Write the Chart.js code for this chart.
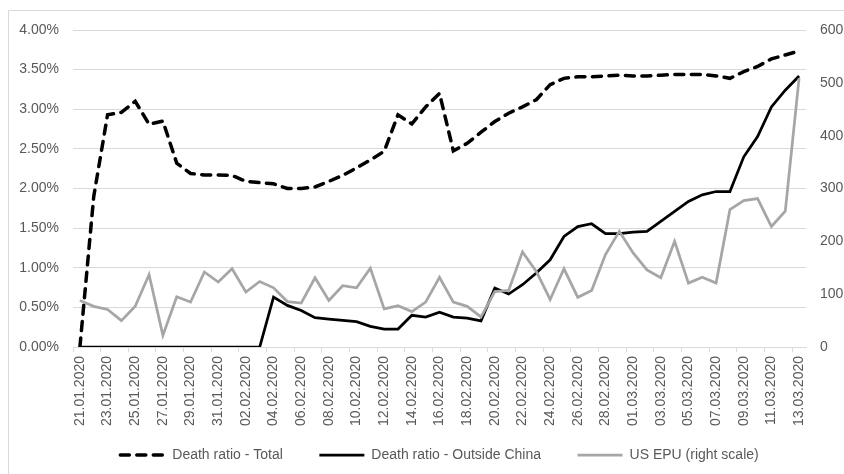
<!DOCTYPE html>
<html>
<head>
<meta charset="utf-8">
<script src="https://cdn.jsdelivr.net/npm/chart.js@4"></script>
<style>
  body { margin: 0; background: #fff; }
  #wrap { width: 844px; height: 474px; position: relative; }
</style>
</head>
<body>
<div id="wrap"><canvas id="chart"></canvas></div>
<script>
const dates = [
  "21.01.2020", "22.01.2020", "23.01.2020", "24.01.2020", "25.01.2020", "26.01.2020",
  "27.01.2020", "28.01.2020", "29.01.2020", "30.01.2020", "31.01.2020", "01.02.2020",
  "02.02.2020", "03.02.2020", "04.02.2020", "05.02.2020", "06.02.2020", "07.02.2020",
  "08.02.2020", "09.02.2020", "10.02.2020", "11.02.2020", "12.02.2020", "13.02.2020",
  "14.02.2020", "15.02.2020", "16.02.2020", "17.02.2020", "18.02.2020", "19.02.2020",
  "20.02.2020", "21.02.2020", "22.02.2020", "23.02.2020", "24.02.2020", "25.02.2020",
  "26.02.2020", "27.02.2020", "28.02.2020", "29.02.2020", "01.03.2020", "02.03.2020",
  "03.03.2020", "04.03.2020", "05.03.2020", "06.03.2020", "07.03.2020", "08.03.2020",
  "09.03.2020", "10.03.2020", "11.03.2020", "12.03.2020", "13.03.2020"
];

// death ratios in percent
const deathTotal = [
  0, 1.9, 2.93, 2.96, 3.1, 2.81, 2.85, 2.32, 2.19, 2.17, 2.17, 2.165, 2.09, 2.075,
  2.06, 2.0, 2.0, 2.02, 2.09, 2.165, 2.26, 2.36, 2.47, 2.93, 2.815, 3.03, 3.2,
  2.475, 2.57, 2.71, 2.845, 2.95, 3.03, 3.12, 3.31, 3.39, 3.41, 3.41, 3.42, 3.43,
  3.42, 3.42, 3.43, 3.44, 3.44, 3.44, 3.42, 3.39, 3.475, 3.54, 3.635, 3.685, 3.735
];
const deathOutside = [
  0, 0, 0, 0, 0, 0, 0, 0, 0, 0, 0, 0, 0, 0,
  0.63, 0.525, 0.46, 0.37, 0.353, 0.336, 0.32, 0.26, 0.227, 0.227, 0.4, 0.378, 0.44,
  0.378, 0.365, 0.33, 0.744, 0.668, 0.786, 0.933, 1.1, 1.395, 1.52, 1.555, 1.43, 1.43,
  1.45, 1.458, 1.584, 1.71, 1.836, 1.92, 1.962, 1.962, 2.4, 2.655, 3.03, 3.24, 3.42
];
// right scale
const usEpu = [
  88, 77, 71, 50, 77, 137, 22, 95, 85, 142, 123, 148, 104, 124,
  112, 86, 83, 131, 88, 116, 112, 149, 72, 78, 67, 85, 132,
  85, 77, 57, 105, 107, 180, 143, 90, 148, 94, 107, 175, 219,
  178, 146, 131, 200, 121, 132, 121, 260, 277, 281, 228, 257, 509
];

const leftTicks = { min: 0, max: 4, step: 0.5 };
const rightTicks = { min: 0, max: 600, step: 100 };

const textColor = "#595959";
const gridColor = "#d9d9d9";

Chart.defaults.font.family = "'Liberation Sans', Arial, sans-serif";
Chart.defaults.font.size = 14;
Chart.defaults.color = textColor;

// light frame around the chart, like the Excel chart border
const frame = {
  id: "frame",
  beforeDraw(chart) {
    const c = chart.ctx;
    c.save();
    c.strokeStyle = gridColor;
    c.lineWidth = 1;
    c.beginPath();
    c.moveTo(8.5, 474);
    c.lineTo(8.5, 10.5);
    c.lineTo(844, 10.5);
    c.stroke();
    c.restore();
  }
};

const baseLabels = Chart.defaults.plugins.legend.labels.generateLabels;

new Chart(document.getElementById("chart"), {
  type: "line",
  data: {
    labels: dates,
    datasets: [
      {
        label: "Death ratio - Total",
        data: deathTotal,
        yAxisID: "y",
        borderColor: "#000",
        backgroundColor: "#000",
        borderWidth: 3.5,
        borderDash: [9, 7.5],
        borderCapStyle: "round",
        pointRadius: 0,
        tension: 0,
        order: 3
      },
      {
        label: "Death ratio - Outside China",
        data: deathOutside,
        yAxisID: "y",
        borderColor: "#000",
        backgroundColor: "#000",
        borderWidth: 2.75,
        pointRadius: 0,
        tension: 0,
        order: 2
      },
      {
        label: "US EPU (right scale)",
        data: usEpu,
        yAxisID: "y1",
        borderColor: "#a6a6a6",
        backgroundColor: "#a6a6a6",
        borderWidth: 2.75,
        pointRadius: 0,
        tension: 0,
        order: 1
      }
    ]
  },
  options: {
    responsive: true,
    maintainAspectRatio: false,
    animation: false,
    layout: { padding: { top: 30, left: 0, right: 0, bottom: 2 } },
    plugins: {
      tooltip: { enabled: false },
      legend: {
        position: "bottom",
        fullSize: false,
        labels: {
          usePointStyle: true,
          pointStyle: "line",
          pointStyleWidth: 45,
          padding: 21,
          color: textColor,
          font: { size: 14 },
          // trailing spaces widen the gap between items without more vertical padding
          generateLabels: (chart) => baseLabels(chart).map((l) => {
            const ds = chart.data.datasets[l.datasetIndex];
            const last = l.datasetIndex === chart.data.datasets.length - 1;
            return {
              ...l,
              text: last ? l.text : l.text + "    ",
              strokeStyle: ds.borderColor,
              lineWidth: ds.borderWidth,
              lineDash: ds.borderDash || [],
              lineCap: ds.borderCapStyle || "butt"
            };
          }),
          sort: (a, b) => a.datasetIndex - b.datasetIndex
        }
      }
    },
    scales: {
      x: {
        offset: true,
        afterFit: (s) => { s.height = 80; },
        grid: {
          offset: true,
          drawOnChartArea: false,
          drawTicks: true,
          tickLength: 5,
          color: (ctx) => (ctx.index % 2 === 0 ? gridColor : "rgba(0,0,0,0)")
        },
        border: { display: true, color: gridColor },
        ticks: {
          autoSkip: false,
          minRotation: 90,
          maxRotation: 90,
          padding: 4,
          color: textColor,
          callback: (v, i) => (i % 2 === 0 ? dates[i] : "")
        }
      },
      y: {
        position: "left",
        min: leftTicks.min,
        max: leftTicks.max,
        afterFit: (s) => { s.width = 73; },
        border: { display: false },
        grid: { color: gridColor, drawTicks: false },
        ticks: {
          stepSize: leftTicks.step,
          padding: 14,
          color: textColor,
          callback: (v) => v.toFixed(2) + "%"
        }
      },
      y1: {
        position: "right",
        min: rightTicks.min,
        max: rightTicks.max,
        afterFit: (s) => { s.width = 38; },
        border: { display: false },
        grid: { drawOnChartArea: false, drawTicks: false },
        ticks: {
          stepSize: rightTicks.step,
          padding: 14,
          color: textColor
        }
      }
    }
  },
  plugins: [frame]
});
</script>
</body>
</html>
